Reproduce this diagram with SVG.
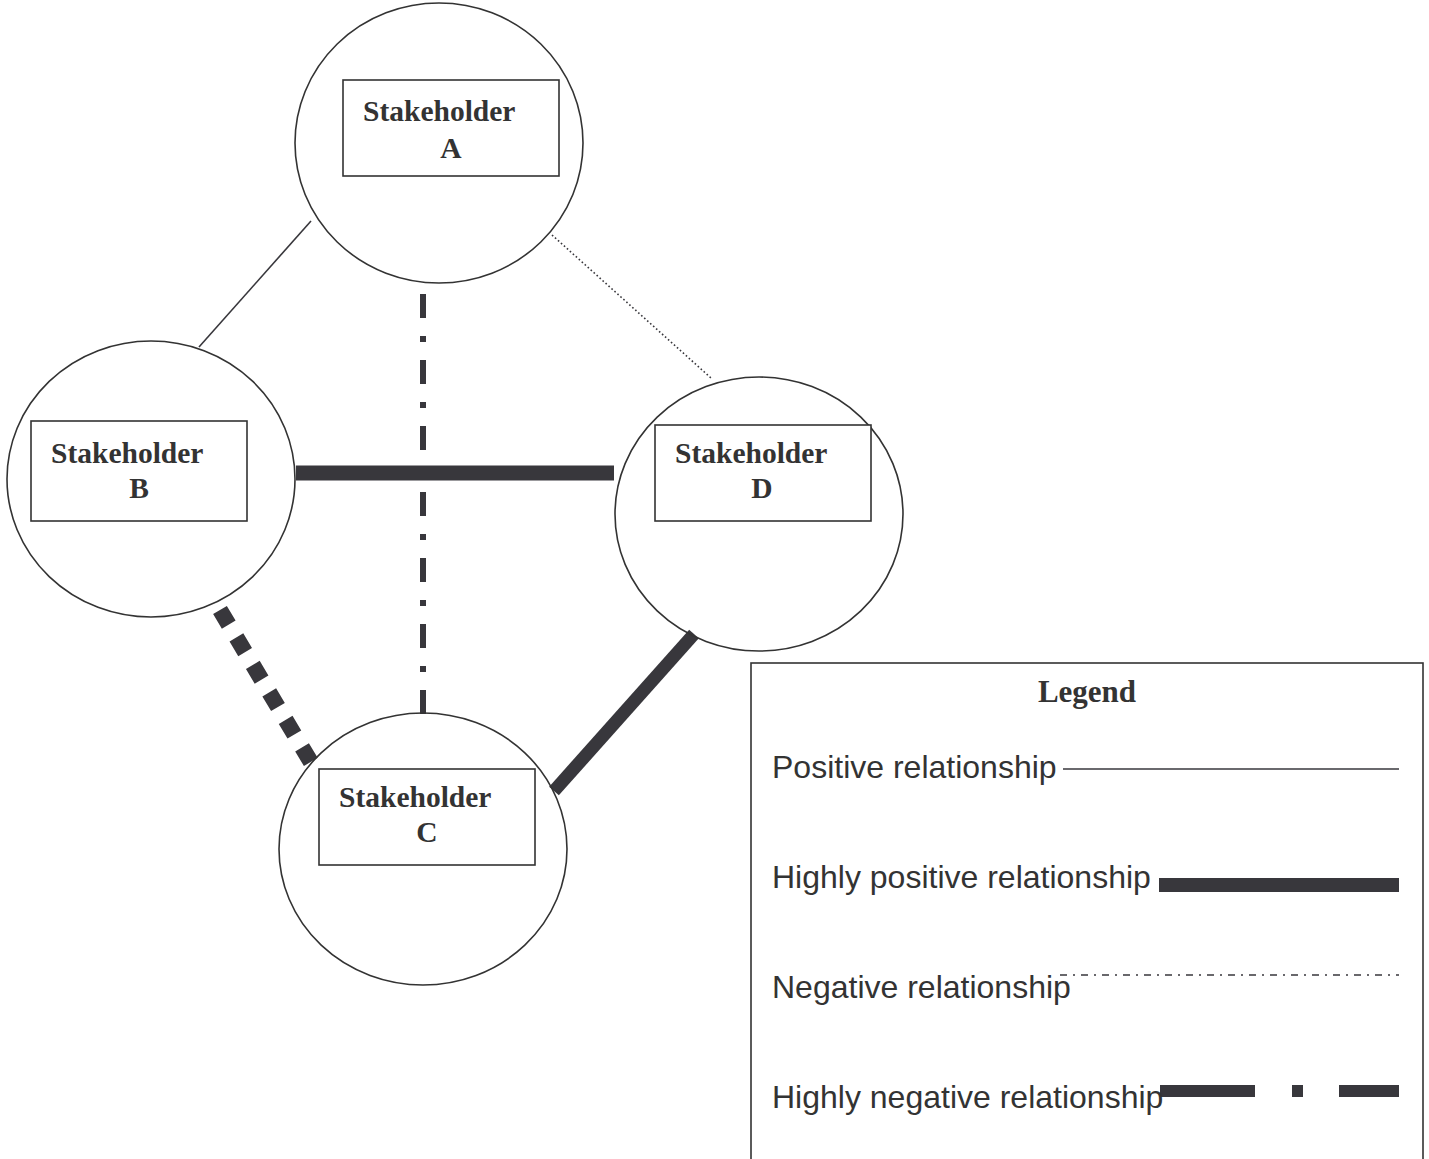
<svg xmlns="http://www.w3.org/2000/svg" width="1429" height="1159" viewBox="0 0 1429 1159">
<style>
.circ{fill:none;stroke:#333;stroke-width:1.6}
.box{fill:#fff;stroke:#333;stroke-width:1.6}
.lbl{font-family:"Liberation Serif","Times New Roman",serif;font-weight:bold;font-size:29.5px;fill:#333}
.leg{font-family:"Liberation Sans",Arial,sans-serif;font-size:32px;fill:#333}
.ln{stroke:#38373c;fill:none}
</style>
<rect width="1429" height="1159" fill="#fff"/>
<g id="connectors">
<line class="ln" x1="311" y1="221" x2="199" y2="347" stroke-width="1.6"/>
<line class="ln" x1="552" y1="235" x2="711" y2="378" stroke-width="1.6" stroke-dasharray="1.6 2.4" stroke="#555"/>
<line class="ln" x1="423" y1="294" x2="423" y2="714" stroke-width="6" stroke-dasharray="24 18 6 18"/>
<line class="ln" x1="296" y1="473" x2="614" y2="473" stroke-width="15"/>
<line class="ln" x1="220" y1="610" x2="312" y2="764" stroke-width="16" stroke-dasharray="17 15"/>
<line class="ln" x1="694" y1="634" x2="554" y2="791" stroke-width="13"/>
</g>
<g id="nodeA">
<ellipse class="circ" cx="439" cy="143" rx="144" ry="140"/>
<rect class="box" x="343" y="80" width="216" height="96"/>
<text class="lbl" x="363" y="121">Stakeholder</text>
<text class="lbl" x="451" y="158" text-anchor="middle">A</text>
</g>
<g id="nodeB">
<ellipse class="circ" cx="151" cy="479" rx="144" ry="138"/>
<rect class="box" x="31" y="421" width="216" height="100"/>
<text class="lbl" x="51" y="463">Stakeholder</text>
<text class="lbl" x="139" y="498" text-anchor="middle">B</text>
</g>
<g id="nodeD">
<ellipse class="circ" cx="759" cy="514" rx="144" ry="137"/>
<rect class="box" x="655" y="425" width="216" height="96"/>
<text class="lbl" x="675" y="463">Stakeholder</text>
<text class="lbl" x="762" y="498" text-anchor="middle">D</text>
</g>
<g id="nodeC">
<ellipse class="circ" cx="423" cy="849" rx="144" ry="136"/>
<rect class="box" x="319" y="769" width="216" height="96"/>
<text class="lbl" x="339" y="807">Stakeholder</text>
<text class="lbl" x="427" y="842" text-anchor="middle">C</text>
</g>
<g id="legend">
<rect x="751" y="663" width="672" height="520" fill="#fff" stroke="#333" stroke-width="1.6"/>
<text class="lbl" x="1087" y="702" text-anchor="middle" style="font-size:31px">Legend</text>
<text class="leg" x="772" y="778">Positive relationship</text>
<line class="ln" x1="1063" y1="769" x2="1399" y2="769" stroke-width="1.6"/>
<text class="leg" x="772" y="888">Highly positive relationship</text>
<line class="ln" x1="1159" y1="885" x2="1399" y2="885" stroke-width="14"/>
<line class="ln" x1="1060" y1="975" x2="1399" y2="975" stroke-width="1.6" stroke-dasharray="7 6 2 6" stroke="#555"/>
<text class="leg" x="772" y="998">Negative relationship</text>
<line class="ln" x1="1160" y1="1091" x2="1399" y2="1091" stroke-width="12" stroke-dasharray="95 37 11 36"/>
<text class="leg" x="772" y="1108">Highly negative relationship</text>
</g>
</svg>
